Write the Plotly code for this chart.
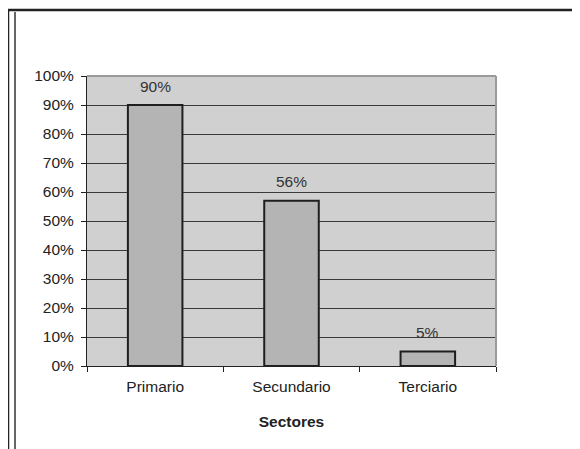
import plotly.graph_objects as go

sectores = ["Primario", "Secundario", "Terciario"]
valores = [0.90, 0.57, 0.05]
etiquetas = ["90%", "56%", "5%"]
y_ticks = [i / 10 for i in range(11)]
y_tick_labels = [f"{i*10}%" for i in range(11)]

OFF = 8  # page body margin
W, H = 580, 449
L, T = 87 - OFF, 76 - OFF
pw, ph = 409, 290
R, B = W - L - pw, H - T - ph

def px_x(x):
    return (x - OFF - L) / pw

def px_y(y):
    return 1 - (y - OFF - T) / ph

FONT = "Liberation Sans, Arial"
FS = 15.5

fig = go.Figure()
fig.add_trace(go.Bar(
    x=sectores, y=valores, width=0.4,
    marker=dict(color="#b4b4b4", line=dict(color="#1e1e1e", width=2)),
    hoverinfo="skip",
))

for s, v, t in zip(sectores, valores, etiquetas):
    fig.add_annotation(x=s, y=v, text=t, showarrow=False, yshift=19,
                       font=dict(family=FONT, size=FS, color="#333333"))

# plot area border (top and right, gray)
fig.add_shape(type="line", xref="paper", yref="paper", x0=0, x1=1, y0=1, y1=1,
              line=dict(color="#9a9a9a", width=2), layer="above")
fig.add_shape(type="line", xref="paper", yref="paper", x0=1, x1=1, y0=0, y1=1,
              line=dict(color="#9a9a9a", width=2), layer="above")

# outer frame
fig.add_shape(type="line", xref="paper", yref="paper", x0=px_x(7), x1=px_x(600),
              y0=px_y(10), y1=px_y(10), line=dict(color="#222222", width=2.5))
fig.add_shape(type="line", xref="paper", yref="paper", x0=px_x(8), x1=px_x(8),
              y0=px_y(9), y1=px_y(470), line=dict(color="#222222", width=2.5))
fig.add_shape(type="line", xref="paper", yref="paper", x0=px_x(15), x1=px_x(15),
              y0=px_y(12), y1=px_y(470), line=dict(color="#333333", width=1.5))

fig.update_layout(
    width=W, height=H,
    margin=dict(l=L, r=R, t=T, b=B),
    paper_bgcolor="white",
    plot_bgcolor="#d0d0d0",
    showlegend=False,
    font=dict(family=FONT, size=FS, color="#222222"),
    bargap=0.6,
)
fig.update_xaxes(
    showline=True, linecolor="#222222", linewidth=1,
    ticks="outside", ticklen=5, tickcolor="#222222", tickson="boundaries",
    ticklabelstandoff=6,
    showgrid=False,
    title=dict(text="<b>Sectores</b>", standoff=22, font=dict(size=FS)),
    tickfont=dict(size=FS),
)
fig.update_yaxes(
    range=[0, 1], tickvals=y_ticks, ticktext=y_tick_labels,
    showline=True, linecolor="#222222", linewidth=1,
    ticks="outside", ticklen=5, tickcolor="#222222",
    ticklabelstandoff=4,
    showgrid=True, gridcolor="#3a3a3a", gridwidth=1, zeroline=False,
    tickfont=dict(size=FS),
)

fig.write_html("out.html")
